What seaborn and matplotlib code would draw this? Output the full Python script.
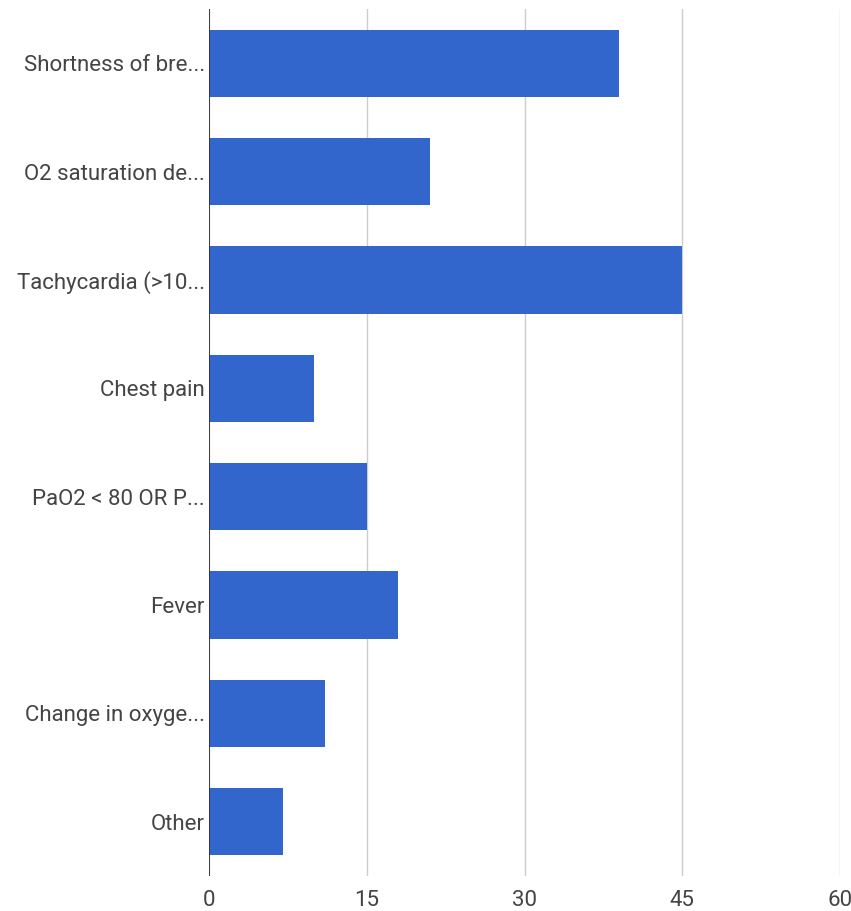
import matplotlib
matplotlib.use("Agg")
import matplotlib.pyplot as plt
import seaborn as sns
import pandas as pd

categories = ["Shortness of bre...", "O2 saturation de...", "Tachycardia (>10...",
              "Chest pain", "PaO2 < 80 OR P...", "Fever", "Change in oxyge...", "Other"]
values = [39, 21, 45, 10, 15, 18, 11, 7]
xticks = [0, 15, 30, 45, 60]

sns.set_theme(style="white")
plt.rcParams['font.family'] = ['Roboto', 'DejaVu Sans']

df = pd.DataFrame({"category": categories, "value": values})

fig = plt.figure(figsize=(8.51, 9.11), dpi=100)
ax = fig.add_axes([209/851, 1 - 876/911, (840 - 209)/851, (876 - 9)/911])

sns.barplot(data=df, y="category", x="value", orient="h", color="#3366CC",
            saturation=1, width=0.62, linewidth=0, ax=ax, zorder=3)

ax.set_xlim(0, 60)
ax.set_ylim(7.5, -0.5)
ax.set_xticks(xticks)
ax.set_xticklabels([str(t) for t in xticks])
ax.grid(axis="x", color="#cccccc", linewidth=1, zorder=0)
ax.axvline(0, color="#333333", linewidth=1.3, zorder=4)
for s in ax.spines.values():
    s.set_visible(False)
ax.set_xlabel("")
ax.set_ylabel("")
ax.tick_params(axis="both", length=0, labelsize=16, colors="#444444")
ax.tick_params(axis="x", pad=10)
ax.tick_params(axis="y", pad=3)

fig.savefig("out.png", dpi=100, facecolor="white")
